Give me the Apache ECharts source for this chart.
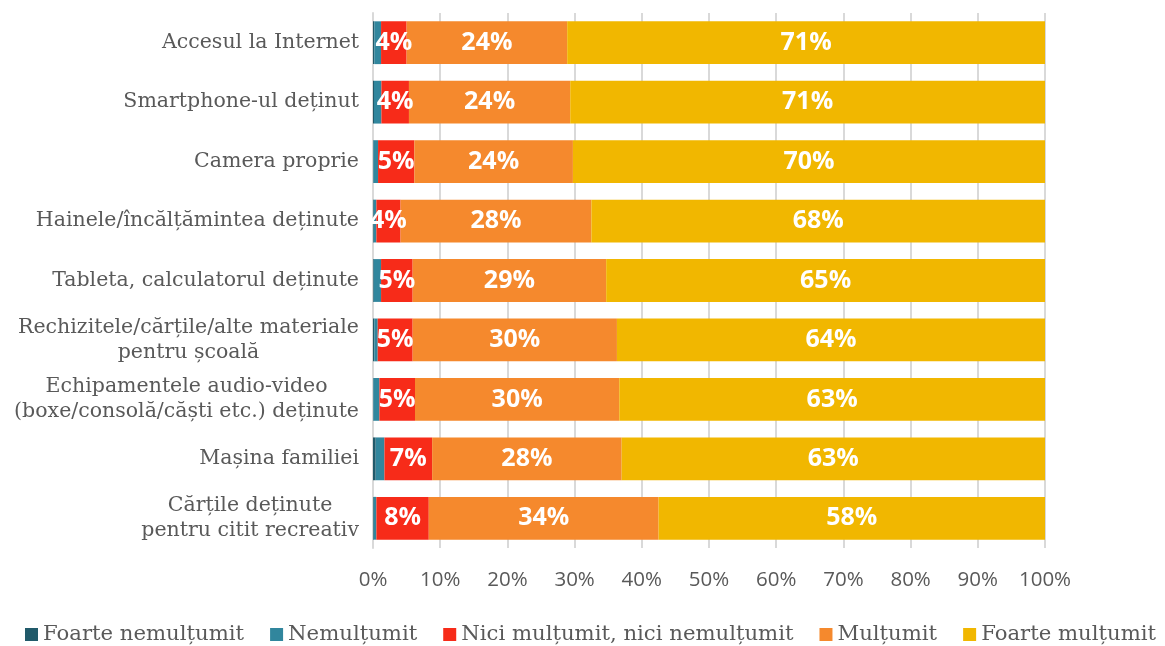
<!DOCTYPE html>
<html>
<head>
<meta charset="utf-8">
<script src="https://cdn.jsdelivr.net/npm/echarts@6/dist/echarts.min.js"></script>
<style>
  html, body { margin: 0; padding: 0; background: #fff; }
  #chart { width: 1165px; height: 646px; }
</style>
</head>
<body>
<div id="chart"></div>
<script>
var categories = [
  'Accesul la Internet',
  'Smartphone-ul deținut',
  'Camera proprie',
  'Hainele/încălțămintea deținute',
  'Tableta, calculatorul deținute',
  'Rechizitele/cărțile/alte materiale\npentru școală',
  'Echipamentele audio-video\n(boxe/consolă/căști etc.) deținute',
  'Mașina familiei',
  'Cărțile deținute\npentru citit recreativ'
];
var seriesNames = ['Foarte nemulțumit', 'Nemulțumit', 'Nici mulțumit, nici nemulțumit', 'Mulțumit', 'Foarte mulțumit'];
var foarteNemultumit = [0.2, 0.15, 0.05, 0.1, 0.1, 0.2, 0.05, 0.4, 0.1];
var nemultumit       = [1.0, 1.1, 0.7, 0.4, 1.1, 0.5, 0.9, 1.3, 0.4];
var niciNici         = [3.8, 4.1, 5.4, 3.6, 4.7, 5.2, 5.3, 7.1, 7.8];
var multumit         = [23.9, 24.0, 23.6, 28.4, 28.8, 30.4, 30.4, 28.2, 34.2];
var foarteMultumit   = [71.1, 70.9, 70.3, 67.5, 65.3, 63.7, 63.4, 63.0, 57.5];
var xTicks = [0, 10, 20, 30, 40, 50, 60, 70, 80, 90, 100];

var colors = ['#215a6a', '#31869d', '#f72b19', '#f5892d', '#f1b700'];
var values = [foarteNemultumit, nemultumit, niciNici, multumit, foarteMultumit];

var series = values.map(function (arr, i) {
  return {
    name: seriesNames[i],
    type: 'bar',
    stack: 'total',
    barCategoryGap: '28%',
    data: arr,
    itemStyle: { color: colors[i] },
    label: {
      show: i >= 2,
      position: 'inside',
      color: '#fff',
      fontFamily: 'Open Sans',
      fontWeight: 'bold',
      fontSize: 25,
      formatter: function (p) { return Math.round(p.value) + '%'; }
    }
  };
});

var chart = echarts.init(document.getElementById('chart'));
chart.setOption({
  animation: false,
  grid: { left: 373, right: 120, top: 13, height: 535, containLabel: false },
  legend: {
    top: 619,
    left: 20,
    width: 1150,
    itemWidth: 13,
    itemHeight: 13,
    itemGap: 26,
    icon: 'rect',
    textStyle: { fontFamily: 'DejaVu Serif', fontSize: 21.2, color: '#595959' },
    data: seriesNames
  },
  xAxis: {
    type: 'value',
    min: 0,
    max: 100,
    interval: 10,
    axisLine: { show: false },
    axisTick: { show: false },
    splitLine: { show: true, lineStyle: { color: '#d9d9d9', width: 2 } },
    axisLabel: {
      margin: 22,
      color: '#595959',
      fontFamily: 'Open Sans',
      fontSize: 20.5,
      formatter: function (v) { return xTicks.indexOf(v) >= 0 ? v + '%' : ''; }
    }
  },
  yAxis: {
    type: 'category',
    inverse: true,
    data: categories,
    axisTick: { show: false },
    axisLine: { show: true, lineStyle: { color: '#d9d9d9', width: 2 } },
    axisLabel: {
      margin: 14,
      color: '#595959',
      fontFamily: 'DejaVu Serif',
      fontSize: 20.5,
      lineHeight: 25,
      formatter: function (v) {
        return v.split('\n').map(function (s) { return '{c|' + s + '}'; }).join('\n');
      },
      rich: {
        c: { align: 'center', fontFamily: 'DejaVu Serif', fontSize: 20.5, color: '#595959', lineHeight: 25 }
      }
    }
  },
  series: series
});
</script>
</body>
</html>
